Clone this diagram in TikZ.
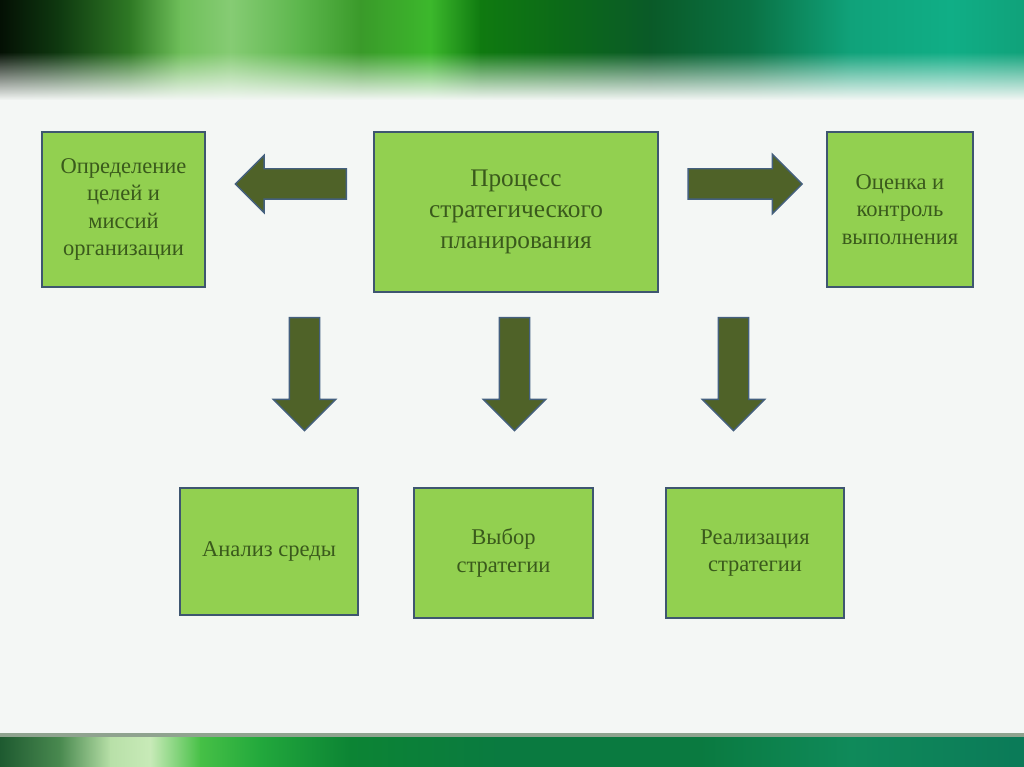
\documentclass[tikz,border=0pt]{standalone}
\usepackage{fontspec}
\setmainfont{Liberation Serif}
\usetikzlibrary{shapes.arrows,fadings}

\tikzfading[name=fadeup, top color=transparent!100, bottom color=transparent!0]

\begin{document}
\begin{tikzpicture}[x=0.025cm, y=-0.025cm,
    block/.style={draw=boxline, line width=1.3pt, fill=boxfill, text=boxtext,
                  align=center, inner sep=0pt, font=\fontsize{16}{19.6}\selectfont},
    bigblock/.style={block, font=\fontsize{18}{21.8}\selectfont},
    blockarrow/.style={single arrow, draw=arrowline, line width=1pt, fill=arrowfill,
                  inner xsep=0pt, inner ysep={14.5*\px}, text height=0pt, text depth=0pt,
                  text width=0pt, minimum width=1pt},
    downarrow/.style={blockarrow, shape border rotate=270,
                  inner xsep={14.5*\px}, inner ysep=0pt}]
  \def\px{0.025cm}
  \definecolor{boxfill}{HTML}{92D050}
  \definecolor{boxline}{HTML}{3E5670}
  \definecolor{boxtext}{HTML}{3A5A1C}
  \definecolor{arrowfill}{HTML}{4F6228}
  \definecolor{arrowline}{HTML}{44607E}
  \definecolor{bgcol}{HTML}{F4F7F5}
  % top band colours
  \definecolor{t0}{HTML}{041004}
  \definecolor{t1}{HTML}{0F3A10}
  \definecolor{t2}{HTML}{2F7A25}
  \definecolor{t3}{HTML}{6FBF5A}
  \definecolor{t4}{HTML}{86CC74}
  \definecolor{t5}{HTML}{5CB64C}
  \definecolor{t6}{HTML}{3A9A2A}
  \definecolor{t7}{HTML}{3CB82C}
  \definecolor{t8}{HTML}{0F7A10}
  \definecolor{t9}{HTML}{0C6A18}
  \definecolor{t10}{HTML}{0A5A28}
  \definecolor{t11}{HTML}{0A7244}
  \definecolor{t12}{HTML}{10A27A}
  \definecolor{t13}{HTML}{10AE86}
  % bottom band colours
  \definecolor{b0}{HTML}{1E5A30}
  \definecolor{b1}{HTML}{4A8A50}
  \definecolor{b2}{HTML}{B8E0A8}
  \definecolor{b3}{HTML}{C8EAB8}
  \definecolor{b4}{HTML}{46C046}
  \definecolor{b5}{HTML}{22A83C}
  \definecolor{b6}{HTML}{0C8434}
  \definecolor{b7}{HTML}{0A7A40}
  \definecolor{b8}{HTML}{0F8A5A}
  \definecolor{b9}{HTML}{0B7A58}

  \useasboundingbox (0,0) rectangle (1024,767);

  %--- Background ---
  \fill[bgcol] (0,0) rectangle (1024,767);

  \begin{scope}
    \clip (0,0) rectangle (1024,767);
    %--- Top green band ---
    \foreach \xa/\ca/\xb/\cb in {0/t0/60/t1, 60/t1/130/t2, 130/t2/180/t3, 180/t3/230/t4,
        230/t4/300/t5, 300/t5/360/t6, 360/t6/430/t7, 430/t7/480/t8, 480/t8/560/t9,
        560/t9/650/t10, 650/t10/750/t11, 750/t11/850/t12, 850/t12/950/t13, 950/t13/1024/t12} {
      \shade[left color=\ca, right color=\cb] (\xa,0) rectangle (\xb+1,100);
    }
    \fill[bgcol, path fading=fadeup] (-2,52) rectangle (1026,100);

    %--- Bottom green band ---
    \fill[gray!60!green!40!black!50] (0,733) rectangle (1024,738);
    \foreach \xa/\ca/\xb/\cb in {0/b0/60/b1, 60/b1/110/b2, 110/b2/150/b3, 150/b3/200/b4,
        200/b4/260/b5, 260/b5/350/b6, 350/b6/500/b7, 500/b7/700/b7, 700/b7/850/b8,
        850/b8/1024/b9} {
      \shade[left color=\ca, right color=\cb] (\xa,737) rectangle (\xb+1,767);
    }
  \end{scope}

  %--- Top row ---
  \node[block, minimum width={163*\px}, minimum height={155*\px}] (goals) at (123.5,209.5)
    {Определение\\целей и\\миссий\\организации};
  \node[bigblock, minimum width={284*\px}, minimum height={160*\px}] (process) at (516,212)
    {Процесс\\стратегического\\планирования};
  \node[block, minimum width={146*\px}, minimum height={155*\px}] (control) at (900,209.5)
    {Оценка и\\контроль\\выполнения};

  %--- Bottom row ---
  \node[block, minimum width={178*\px}, minimum height={127*\px}] (analysis) at (269,551.5)
    {Анализ среды};
  \node[block, minimum width={179*\px}, minimum height={130*\px}] (choice) at (503.5,553)
    {Выбор\\стратегии};
  \node[block, minimum width={178*\px}, minimum height={130*\px}] (realize) at (755,553)
    {Реализация\\стратегии};

  %--- Block arrows ---
  \node[blockarrow, shape border rotate=180, minimum height={111*\px},
        single arrow head extend={13.5*\px}] (toGoals) at (298.5,184) {};
  \node[blockarrow, minimum height={114*\px},
        single arrow head extend={14.5*\px}] (toControl) at (737.5,184) {};
  \foreach \name/\xc in {toAnalysis/304.5, toChoice/514.5, toRealize/733.5} {
    \node[downarrow, minimum height={113*\px},
          single arrow head extend={16*\px}] (\name) at (\xc,366.5) {};
  }

\end{tikzpicture}
\end{document}
